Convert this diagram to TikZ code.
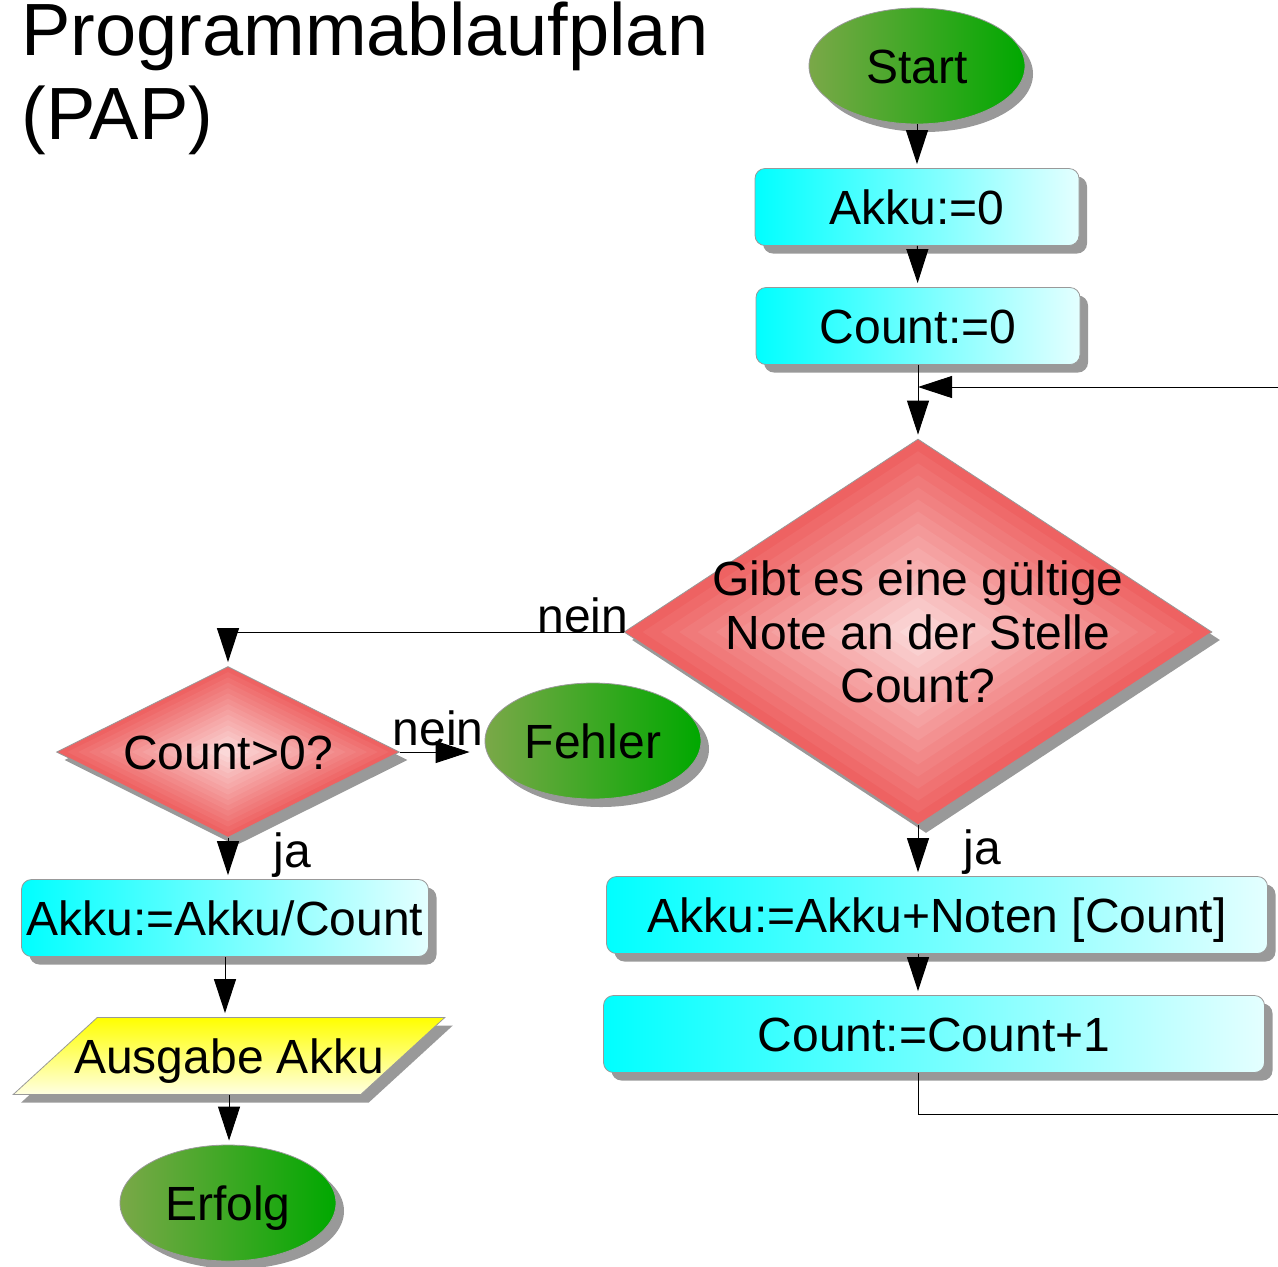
\documentclass[tikz,border=0pt]{standalone}
\usepackage{fontspec}
\setmainfont{Liberation Sans}
\usetikzlibrary{shapes.geometric,shadows,arrows.meta,calc}

\definecolor{rautenrot}{RGB}{238,98,98}
\definecolor{blattgruen}{RGB}{122,168,72}
\definecolor{tiefgruen}{RGB}{0,168,0}
\definecolor{hellcyan}{RGB}{228,255,255}
\definecolor{hellgelb}{RGB}{255,255,226}
\definecolor{schattengrau}{RGB}{153,153,153}

\begin{document}
\begin{tikzpicture}[x=0.5pt,y=-0.5pt,
  schatten/.style={drop shadow={shadow xshift=4pt,shadow yshift=-4pt,fill=schattengrau,opacity=1}},
  beschriftung/.style={inner sep=0pt,font=\fontsize{24}{26.75}\selectfont},
  grundform/.style={beschriftung,draw=black!40,line width=0.4pt,text height=17pt,text depth=0pt,schatten},
  oval/.style={grundform,ellipse,minimum width=108pt,minimum height=58pt,left color=blattgruen,right color=tiefgruen},
  anweisung/.style={grundform,rectangle,rounded corners=5pt,minimum height=38.5pt,left color=cyan,right color=hellcyan},
  raute/.style={grundform,diamond,path picture={
    \foreach \k [evaluate=\k as \anteil using 1-\k/16, evaluate=\k as \prozent using int(100-5*\k)] in {0,...,15}
      \fill[rautenrot!\prozent!white]
        ($(path picture bounding box.center)!\anteil!(path picture bounding box.north)$) --
        ($(path picture bounding box.center)!\anteil!(path picture bounding box.east)$) --
        ($(path picture bounding box.center)!\anteil!(path picture bounding box.south)$) --
        ($(path picture bounding box.center)!\anteil!(path picture bounding box.west)$) -- cycle;
  }},
  ausgabe/.style={grundform,trapezium,trapezium left angle=42.5,trapezium right angle=137.5,inner xsep=-11.5pt,inner ysep=10.75pt,top color=yellow,bottom color=hellgelb},
  pfeil/.style={line width=0.5pt,shorten >=2pt,-{Triangle[width=11pt,length=17pt]}},
  ja/.style={beschriftung,pos=1,anchor=base west,xshift=22.5pt,yshift=6pt}
]

\useasboundingbox (0,0) rectangle (1278,1266);
\clip (0,0) rectangle (1278,1266);

\node[anchor=base west,align=left,inner sep=0pt,font=\fontsize{37}{42}\selectfont] (titel) at (21,139) {Programmablaufplan\\(PAP)};

\node[oval] (start) at (917,66) {Start};
\node[anweisung,minimum width=162pt] (akku0) at (917,207) {Akku:=0};
\node[anweisung,minimum width=162pt] (count0) at (918,326) {Count:=0};
\node[raute,minimum width=294pt,minimum height=193pt,label={[beschriftung,align=center]center:Gibt es eine gültige\\Note an der Stelle\\Count?}] (frage) at (918,632) {};
\node[anweisung,minimum width=330.5pt] (noten) at (937,915) {Akku:=Akku+Noten [Count]};
\node[anweisung,minimum width=330.5pt] (inc) at (934,1034) {Count:=Count+1};

\node[raute,minimum width=171.5pt,minimum height=85.5pt,label={[beschriftung,text height=17pt,text depth=0pt]center:Count>0?}] (test) at (228,752) {};
\node[oval] (fehler) at (593,741) {Fehler};
\node[anweisung,minimum width=203.5pt] (mittel) at (225,918) {Akku:=Akku/Count};
\node[ausgabe] (ausgabe) at (229,1056) {Ausgabe Akku};
\node[oval] (erfolg) at (228,1203) {Erfolg};

\coordinate (einmuendung) at (918,387);
\coordinate (rechts) at (1300,1114);

\draw[pfeil] (start) -- (akku0);
\draw[pfeil] (akku0) -- (count0);
\draw[pfeil] (count0) -- (frage);
\draw[pfeil,shorten >=0pt] (inc.south -| frage.south) |- (rechts) |- (einmuendung);

\draw[pfeil] (frage.south) -- (frage.south |- noten.north) node[ja]{ja};
\draw[pfeil] (noten.south -| frage.south) -- (inc.north -| frage.south);

\draw[pfeil] (frage.west) -| node[pos=0,beschriftung,anchor=base east,xshift=2.5pt]{nein} (test.north);
\draw[pfeil,shorten >=7.5pt] (test.east) -- node[beschriftung,above=3pt,xshift=-2pt]{nein} (test.east -| fehler.west);
\draw[pfeil] (test.south) -- (test.south |- mittel.north) node[ja]{ja};
\draw[pfeil] (mittel.south) -- (mittel.south |- ausgabe.north);
\draw[pfeil] (ausgabe.south) -- (ausgabe.south |- erfolg.north);

\end{tikzpicture}
\end{document}
